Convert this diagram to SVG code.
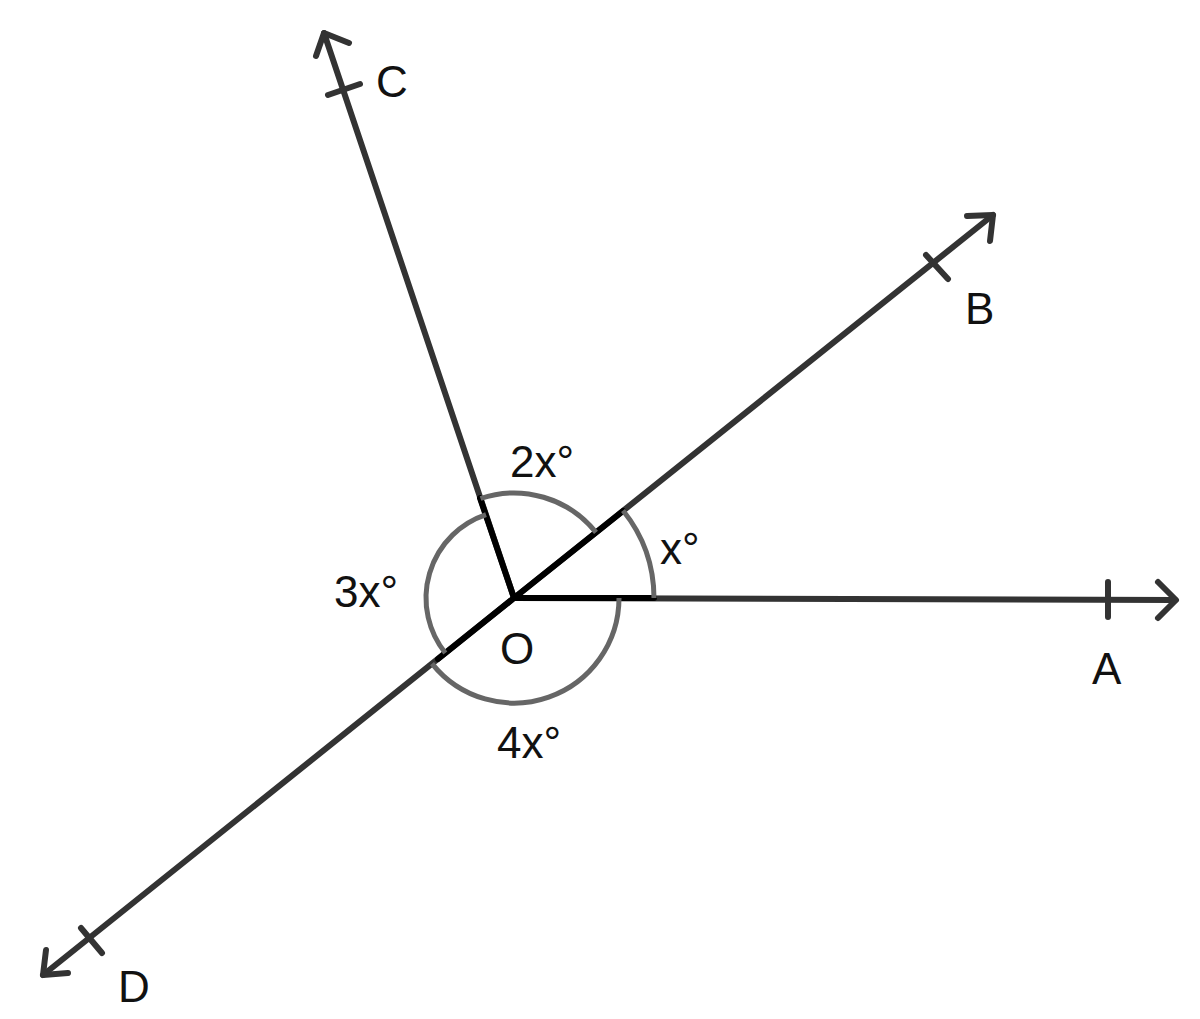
<svg xmlns="http://www.w3.org/2000/svg" width="1200" height="1019" viewBox="0 0 1200 1019">
<style>
.ray{stroke:#333;stroke-width:6;fill:none;stroke-linecap:round;stroke-linejoin:round}
.in{stroke:#000;stroke-width:6;stroke-linecap:round}
.arc{stroke:#666;stroke-width:5;fill:none}
text{font-family:"Liberation Sans",Arial,sans-serif;font-size:44px;fill:#111}
</style>
<rect width="1200" height="1019" fill="#fff"/>
<g id="connectors">
<line class="ray" x1="514" y1="598" x2="1175" y2="600"/>
<polyline class="ray" points="1158,582 1176,600 1158,618"/>
<line class="ray" x1="1108" y1="582" x2="1108" y2="617"/>
<line class="ray" x1="514" y1="598" x2="993" y2="215"/>
<polyline class="ray" points="967,216 993,215 990,241"/>
<line class="ray" x1="926" y1="255" x2="948" y2="279"/>
<line class="ray" x1="514" y1="598" x2="324" y2="33"/>
<polyline class="ray" points="316,56 324,33 349,43"/>
<line class="ray" x1="328" y1="95" x2="360" y2="84"/>
<line class="ray" x1="514" y1="598" x2="43" y2="975"/>
<polyline class="ray" points="46,950 43,975 68,973"/>
<line class="ray" x1="81" y1="928" x2="102" y2="953"/>
<line class="in" x1="514" y1="598" x2="654" y2="598"/>
<line class="in" x1="514" y1="598" x2="623" y2="511"/>
<line class="in" x1="514" y1="598" x2="480" y2="498"/>
<line class="in" x1="514" y1="598" x2="438" y2="659"/>
</g>
<g id="arcs">
<path class="arc" d="M654,598 A140,140 0 0 0 623,510.5"/>
<path class="arc" d="M596,532.4 A105,105 0 0 0 480.5,498.5"/>
<path class="arc" d="M486,514.6 A88,88 0 0 0 445.3,653"/>
<path class="arc" d="M432,663.6 A105,105 0 0 0 619,598"/>
</g>
<g id="labels">
<text x="376" y="97">C</text>
<text x="965" y="324">B</text>
<text x="1092" y="684">A</text>
<text x="118" y="1002">D</text>
<text x="500" y="664">O</text>
<text x="510" y="477">2x°</text>
<text x="660" y="564">x°</text>
<text x="334" y="607">3x°</text>
<text x="497" y="758">4x°</text>
</g>
</svg>
